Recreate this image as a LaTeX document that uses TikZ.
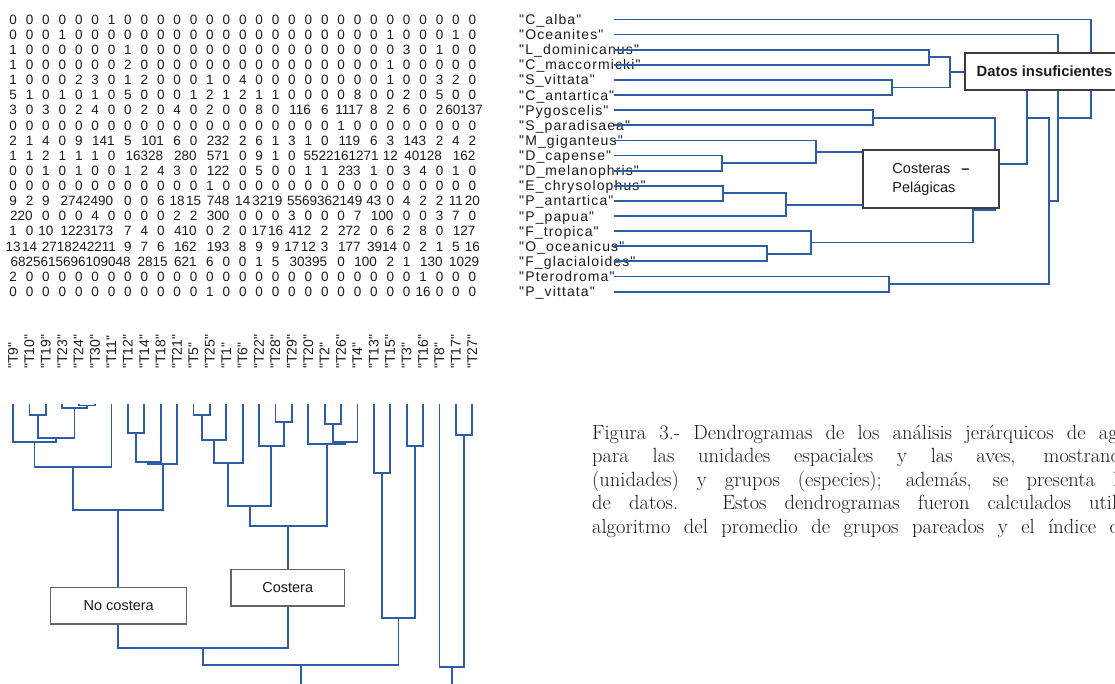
\documentclass[tikz,border=0pt]{standalone}
\usepackage{fontspec}
\newfontfamily\arialf{Liberation Sans}
\newfontfamily\arialsp{Liberation Sans}[LetterSpace=8]
\definecolor{dblue}{RGB}{46,93,168}
\definecolor{boxgray}{RGB}{60,60,60}
\definecolor{boxgrayb}{RGB}{100,100,100}
\definecolor{txt}{RGB}{28,28,28}
\newdimen\cellw \cellw=16.4pt
\def\digs#1{\ifx#1\relax\else\makebox[\cellw][c]{#1}\expandafter\digs\fi}
\newcommand\celln[2][1]{\makebox[#1\cellw][c]{#2}}
\newcommand\matfont{\arialf\fontsize{13.5}{16}\selectfont}
\newcommand\spfont{\arialsp\fontsize{14}{16}\selectfont}
\newcommand\unfont{\arialf\fontsize{14}{16}\selectfont}
\newcommand\grpfont{\arialf\fontsize{14.5}{19}\selectfont}
\newcommand\capfont{\rmfamily\fontsize{20.5}{23.5}\selectfont}
\begin{document}
\begin{tikzpicture}[x=1pt,y=-1pt,
  den/.style={draw=dblue,line width=1.8pt},
  mrow/.style={anchor=base west,inner sep=0pt,text=txt,font=\matfont},
  splab/.style={anchor=base west,inner sep=0pt,text=txt,font=\spfont},
  ulab/.style={anchor=west,rotate=90,inner sep=0pt,text=txt,font=\unfont},
  grpbox/.style={draw=boxgray,line width=1.3pt,fill=white,text=txt,font=\grpfont,inner sep=0pt},
  grpboxb/.style={draw=boxgrayb,line width=1.2pt,fill=white,text=txt,font=\grpfont,inner sep=0pt},
  capline/.style={anchor=base west,inner sep=0pt,text=txt,font=\capfont}]
\useasboundingbox (0,0) rectangle (1115,684);
\fill[white] (0,0) rectangle (1115,684);

% ---------- data matrix (29 columns aligned with the unit leaves) ----------
\node[mrow] (r1)  at (4.8,24.3)  {\digs 00000010000000000000000000000\relax};
\node[mrow] (r2)  at (4.8,39.4)  {\digs 00010000000000000000000100010\relax};
\node[mrow] (r3)  at (4.8,54.5)  {\digs 10000001000000000000000030100\relax};
\node[mrow] (r4)  at (4.8,69.7)  {\digs 10000002000000000000000100000\relax};
\node[mrow] (r5)  at (4.8,84.8)  {\digs 10002301200010400000000100320\relax};
\node[mrow] (r6)  at (4.8,99.9)  {\digs 51010105000121211000080020500\relax};
\node[mrow] (r7)  at (4.8,115.0) {\digs 30302400204020080\relax\celln[2]{116}\digs 6\relax\celln[2]{1117}\digs 82602\relax\celln[2]{60137}};
\node[mrow] (r8)  at (4.8,130.1) {\digs 00000000000000000000100000000\relax};
\node[mrow] (r9)  at (4.8,145.3) {\digs 21409\relax\celln[2]{141}\digs 5\relax\celln[2]{101}\digs 60\relax\celln[2]{232}\digs 261310\relax\celln[2]{119}\digs 63\relax\celln[2]{143}\digs 242\relax};
\node[mrow] (r10) at (4.8,160.4) {\digs 1121110\relax\celln[3]{16328}\celln[2]{280}\celln[2]{571}\digs 0910\relax\celln[5]{5522161271}\celln{12}\celln[3]{40128}\celln[2]{162}};
\node[mrow] (r11) at (4.8,175.5) {\digs 001010012430\relax\celln[2]{122}\digs 050011\relax\celln[2]{233}\digs 1034010\relax};
\node[mrow] (r12) at (4.8,190.6) {\digs 00000000000010000000000000000\relax};
\node[mrow] (r13) at (4.8,205.7) {\digs 929\relax\celln[4]{2742490}\digs 006\relax\celln{18}\celln{15}\celln[2]{748}\celln{14}\celln[2]{3219}\celln[5]{5569362149}\celln{43}\digs 0422\relax\celln{11}\celln{20}};
\node[mrow] (r14) at (4.8,220.9) {\celln[2]{220}\digs 0004000022\relax\celln[2]{300}\digs 00030007\relax\celln[2]{100}\digs 00370\relax};
\node[mrow] (r15) at (4.8,236.0) {\digs 10\relax\celln{10}\celln[4]{1223173}\digs 740\relax\celln[2]{410}\digs 020\relax\celln{17}\celln{16}\celln[2]{412}\digs 2\relax\celln[2]{272}\digs 06280\relax\celln[2]{127}};
\node[mrow] (r16) at (4.8,251.1) {\celln{13}\celln{14}\celln[5]{2718242211}\digs 976\relax\celln[2]{162}\celln[2]{193}\digs 899\relax\celln{17}\celln{12}\digs 3\relax\celln[2]{177}\celln[2]{3914}\digs 0215\relax\celln{16}};
\node[mrow] (r17) at (4.8,266.2) {\celln[8]{6825615696109048}\celln[2]{2815}\celln[2]{621}\digs 60015\relax\celln[3]{30395}\digs 0\relax\celln[2]{100}\digs 21\relax\celln[2]{130}\celln[2]{1029}};
\node[mrow] (r18) at (4.8,281.3) {\digs 20000000000000000000000001000\relax};
\node[mrow] (r19) at (4.8,296.5) {\digs 0000000000001000000000000\relax\celln{16}\digs 000\relax};

% ---------- species labels ----------
\foreach \lab/\yy [count=\i] in {"C\_alba"/19.5,"Oceanites"/34.6,"L\_dominicanus"/49.7,"C\_maccormicki"/64.9,
  "S\_vittata"/80.0,"C\_antartica"/95.1,"Pygoscelis"/110.2,"S\_paradisaea"/125.3,"M\_giganteus"/140.5,
  "D\_capense"/155.6,"D\_melanophris"/170.7,"E\_chrysolophus"/185.8,"P\_antartica"/200.9,"P\_papua"/216.1,
  "F\_tropica"/231.2,"O\_oceanicus"/246.3,"F\_glacialoides"/261.4,"Pterodroma"/276.5,"P\_vittata"/291.7}
  {\node[splab] (sp\i) at (519,\yy+5) {\lab};}

% ---------- species dendrogram ----------
\draw[den] (614,49.7) -| (929,64.9) -- (614,64.9);
\draw[den] (614,80.0) -| (892,95.1) -- (614,95.1);
\draw[den] (929,57.3) -| (950,87.6) -- (892,87.6);
\draw[den] (614,110.2) -| (873,125.3) -- (614,125.3);
\draw[den] (614,155.6) -| (722,170.7) -- (614,170.7);
\draw[den] (614,140.5) -| (816,163.2) -- (722,163.2);
\draw[den] (614,185.8) -| (723,200.9) -- (614,200.9);
\draw[den] (723,193.4) -| (786,216.1) -- (614,216.1);
\draw[den] (816,151.8) -| (930,204.7) -- (786,204.7);
\draw[den] (614,246.3) -| (767,261.4) -- (614,261.4);
\draw[den] (614,231.2) -| (811,253.9) -- (767,253.9);
\draw[den] (930,178.3) -| (973,242.5) -- (811,242.5);
\draw[den] (873,117.8) -| (995,210.4) -- (973,210.4);
\draw[den] (950,72.4) -| (1027,164.1) -- (995,164.1);
\draw[den] (614,276.5) -| (889,291.7) -- (614,291.7);
\draw[den] (1027,118.2) -| (1049,284.1) -- (889,284.1);
\draw[den] (614,34.6) -| (1058,201.2) -- (1049,201.2);
\draw[den] (614,19.5) -| (1091,117.9) -- (1058,117.9);
\draw[den] (1091,68.7) -- (1125,68.7);

\node[grpbox,minimum width=159pt,minimum height=37pt,font=\arialf\bfseries\fontsize{14.8}{17}\selectfont]
  (datos) at (1044.5,71.5) {Datos insuficientes};
\node[grpbox,minimum width=136pt,minimum height=58pt,align=left]
  (cp) at (931,179) {Costeras\hspace{11pt}{\bfseries –}\\Pelágicas};

% ---------- unit labels ----------
\foreach \n [count=\i] in {9,10,19,23,24,30,11,12,14,18,21,5,25,1,6,22,28,29,20,2,26,4,13,15,3,16,8,17,27}
  {\node[ulab] (u\i) at ({13+16.4*(\i-1)},369) {"T\n"};}

% ---------- unit dendrogram ----------
\draw[den] (29.4,404) |- (45.8,415) -- (45.8,404);
\draw[den] (78.6,404) |- (95,405.5) -- (95,404);
\draw[den] (62.2,404) |- (86.8,408) -- (86.8,405.5);
\draw[den] (37.6,415) |- (74.5,438) -- (74.5,408);
\draw[den] (13,404) |- (56.05,441.7) -- (56.05,438);
\draw[den] (34.5,441.7) |- (111.4,466.7) -- (111.4,404);
\draw[den] (127.8,404) |- (144.2,433) -- (144.2,404);
\draw[den] (136,433) |- (160.6,462.3) -- (160.6,404);
\draw[den] (148.3,462.3) |- (177,464.3) -- (177,404);
\draw[den] (73,466.7) |- (162.7,510) -- (162.7,464.3);
\draw[den] (193.4,404) |- (209.8,415) -- (209.8,404);
\draw[den] (201.6,415) |- (226.2,440) -- (226.2,404);
\draw[den] (213.9,440) |- (242.6,463.3) -- (242.6,404);
\draw[den] (275.4,404) |- (291.8,421.7) -- (291.8,404);
\draw[den] (259,404) |- (283.6,446) -- (283.6,421.7);
\draw[den] (228.3,463.3) |- (271.3,506) -- (271.3,446);
\draw[den] (324.6,404) |- (341,424.3) -- (341,404);
\draw[den] (332.8,424.3) |- (357.4,442.3) -- (357.4,404);
\draw[den] (308.2,404) |- (345.1,444) -- (345.1,442.3);
\draw[den] (249.8,506) |- (326.7,526) -- (326.7,444);
\draw[den] (117.8,510) |- (288.2,647.7) -- (288.2,526);
\draw[den] (373.8,404) |- (390.2,472.7) -- (390.2,404);
\draw[den] (406.6,404) |- (423,446) -- (423,404);
\draw[den] (382,472.7) |- (414.8,618.3) -- (414.8,446);
\draw[den] (203,647.7) |- (398.4,665) -- (398.4,618.3);
\draw[den] (300.7,665) -- (300.7,690);
\draw[den] (455.8,404) |- (472.2,435) -- (472.2,404);
\draw[den] (439.4,404) |- (464,666.7) -- (464,435);
\draw[den] (451.7,666.7) -- (451.7,690);

\node[grpboxb,minimum width=136pt,minimum height=36.3pt] (nocost) at (118.7,605.9) {No costera};
\node[grpboxb,minimum width=113.3pt,minimum height=36.7pt] (cost) at (287.7,587.7) {Costera};

% ---------- caption ----------
\node[capline] (c1) at (592,439)   {\makebox[525.5pt][s]{Figura 3.- Dendrogramas de los análisis jerárquicos de ag}};
\node[capline] (c2) at (592,462.5) {\makebox[529pt][s]{para las unidades espaciales y las aves, mostrand}};
\node[capline] (c3) at (592,486)   {\makebox[526pt][s]{(unidades) y grupos (especies); además, se presenta l}};
\node[capline] (c4) at (592,509.5) {\makebox[525pt][s]{de datos. Estos dendrogramas fueron calculados util}};
\node[capline] (c5) at (592,533)   {\makebox[528pt][s]{algoritmo del promedio de grupos pareados y el índice d}};
\end{tikzpicture}
\end{document}
